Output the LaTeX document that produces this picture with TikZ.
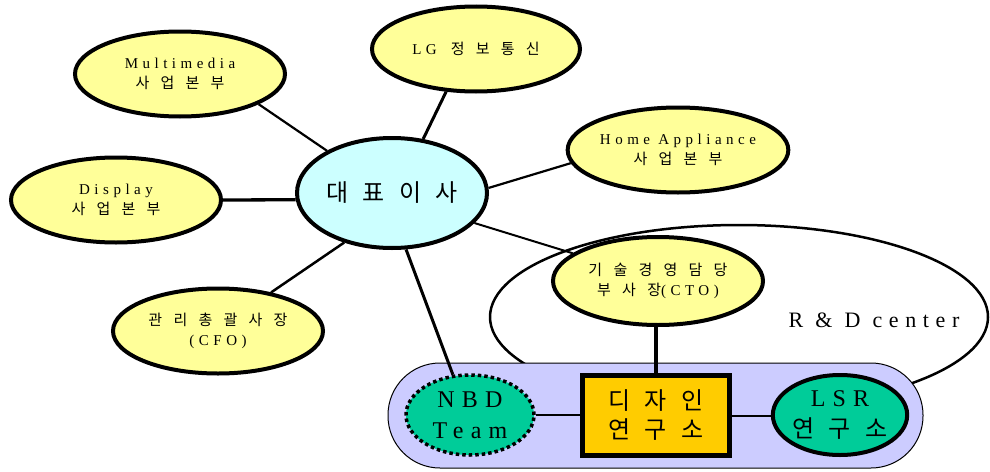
\documentclass[tikz,border=0pt]{standalone}
\usepackage{fontspec}
\setmainfont{Liberation Serif}[LetterSpace=30]
\newfontfamily\kr{Noto Sans CJK KR}[LetterSpace=60]
\newfontfamily\krwide{Noto Sans CJK KR}[LetterSpace=75]
\usetikzlibrary{shapes.geometric}
\definecolor{unityellow}{HTML}{FFFF99}
\definecolor{ceocyan}{HTML}{CCFFFF}
\definecolor{rdlavender}{HTML}{CCCCFF}
\definecolor{labgreen}{HTML}{00CC99}
\definecolor{designorange}{HTML}{FFCC00}
\pgfdeclarelayer{bg}
\pgfdeclarelayer{mid}
\pgfsetlayers{bg,mid,main}

\begin{document}
\begin{tikzpicture}[x=1pt,y=-1pt,
  oval/.style={ellipse, draw, line width=4pt, inner sep=0pt, align=center},
  unit/.style={oval, fill=unityellow, font=\fontsize{15}{20}\selectfont,
    minimum width=210pt, minimum height=85pt},
  lab/.style={oval, fill=labgreen, font=\fontsize{24}{31}\selectfont,
    minimum width=128pt, minimum height=80pt},
  link/.style={line width=#1},
  link/.default=2.2pt]
\useasboundingbox (0,0) rectangle (990,471);

% top management and business units
\node[oval, fill=ceocyan, minimum width=190pt, minimum height=110pt,
  font=\fontsize{24}{30}\selectfont] (ceo) at (392,193) {{\kr 대표이사}};
\node[unit, minimum width=208pt] (lg) at (476,49) {\mbox{LG}\hspace*{14pt}\mbox{\krwide 정보통신}};
\node[unit] (mm) at (180,74) {Multimedia\\{\krwide 사업본부}};
\node[unit] (home) at (678,150) {Home Appliance\\{\krwide 사업본부}};
\node[unit] (disp) at (116,200) {Display\\{\krwide 사업본부}};
\node[unit] (cfo) at (218,331) {{\krwide 관리총괄사장}\\(CFO)};
\node[unit, minimum height=88pt] (cto) at (658,281) {{\krwide 기술경영담당}\\{\krwide 부사장}(CTO)};

% R&D centre contents
\node[lab, line width=3.5pt, dash pattern=on 3.5pt off 3pt] (nbd) at (470,415) {NBD\\Team};
\node[draw, line width=5pt, fill=designorange, minimum width=147pt, minimum height=80pt,
  inner sep=0pt, align=center, font=\fontsize{24}{29}\selectfont] (design) at (656,415.5)
  {{\kr 디자인}\\{\kr 연구소}};
\node[lab] (lsr) at (840,415) {LSR\\{\kr 연구소}};
\node[font=\fontsize{22}{26}\selectfont] (rdlabel) at (874,320) {R \& D center};

\begin{pgfonlayer}{bg}
  \draw[line width=2.5pt] (739,317) ellipse [x radius=249, y radius=92];
  \draw[line width=1pt, fill=rdlavender, rounded corners=52pt] (388,363) rectangle (923,468);
\end{pgfonlayer}

\begin{pgfonlayer}{mid}
  \draw[link] (ceo.147) -- (mm.-21);
  \draw[link=3pt] (ceo.60) -- (lg.235);
  \draw[link=3.3pt] (ceo.184) -- (disp.east);
  \draw[link] (ceo.3) -- (home.187);
  \draw[link=2.5pt] (ceo.226) -- (cfo.36);
  \draw[link=3pt] (ceo.284) -- (nbd.113);
  \draw[link=2pt] (ceo.340) -- (cto.162);
  \draw[link=4pt] (design.north) -- (design.north |- cto.south);
  \draw[link=2pt] (nbd.east) -- (nbd.east -| design.west);
  \draw[link=2pt] (design.east) -- (design.east -| lsr.west);
\end{pgfonlayer}
\end{tikzpicture}
\end{document}
